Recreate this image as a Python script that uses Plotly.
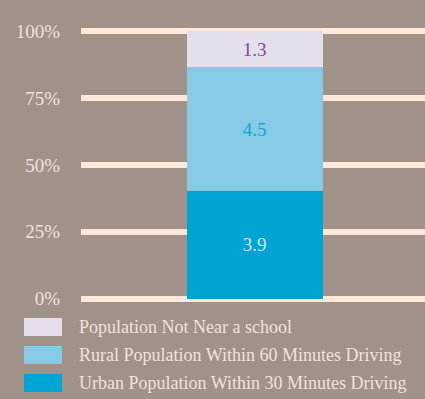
import plotly.graph_objects as go

# Share of population by access to a school (raw values, normalised to 100%)
series_names = [
    "Urban Population Within 30 Minutes Driving",
    "Rural Population Within 60 Minutes Driving",
    "Population Not Near a school",
]
series_values = [3.9, 4.5, 1.3]
series_colors = ["#00a4d3", "#86cae5", "#e4dfeb"]
label_colors = ["#c9e7f2", "#18a3d4", "#7a4e9b"]
category = ["All"]
tick_values = [0, 25, 50, 75, 100]
tick_labels = ["0%", "25%", "50%", "75%", "100%"]

BG = "#a09189"
GRID = "#fde8d9"
TEXT = "#efe3d8"
FONT = "Liberation Serif, DejaVu Serif, serif"

W, H = 425, 399
M_L, M_R, M_T, M_B = 81, 0, 26, 95
PW, PH = W - M_L - M_R, H - M_T - M_B

fig = go.Figure()
for name, val, col, lcol in zip(series_names, series_values, series_colors, label_colors):
    fig.add_trace(go.Bar(
        x=category, y=[val], name=name,
        marker=dict(color=col, line=dict(width=0)),
        text=[f"{val:.1f}"], textposition="inside", insidetextanchor="middle",
        textfont=dict(family=FONT, size=19, color=lcol),
        width=0.395, showlegend=False, hoverinfo="skip",
    ))


def px_x(px):
    return (px - M_L) / PW


def px_y(py):
    return (H - M_B - py) / PH


# Hand-drawn legend: wide swatches with labels, top-down
shapes, annotations = [], []
rows = [(327, 2), (355, 1), (383, 0)]
for cy, i in rows:
    shapes.append(dict(
        type="rect", xref="paper", yref="paper",
        x0=px_x(24), x1=px_x(62), y0=px_y(cy + 9), y1=px_y(cy - 9),
        fillcolor=series_colors[i], line=dict(width=0),
    ))
    annotations.append(dict(
        xref="paper", yref="paper", x=px_x(77), y=px_y(cy),
        xanchor="left", yanchor="middle", showarrow=False,
        text=series_names[i], font=dict(family=FONT, size=18, color=TEXT),
    ))

fig.update_layout(
    width=W, height=H,
    margin=dict(l=M_L, r=M_R, t=M_T, b=M_B, pad=0),
    paper_bgcolor=BG, plot_bgcolor=BG,
    barmode="stack", barnorm="percent",
    uniformtext=dict(mode="show", minsize=10),
    xaxis=dict(visible=False, range=[-0.505, 0.495]),
    yaxis=dict(
        range=[-2, 102], tickvals=tick_values, ticktext=tick_labels,
        showgrid=True, gridcolor=GRID, gridwidth=6, zeroline=False,
        showline=False, ticks="", ticklabelstandoff=20,
        tickfont=dict(family=FONT, size=19, color=TEXT),
    ),
    shapes=shapes, annotations=annotations,
    showlegend=False,
)

fig.write_html("out.html")
